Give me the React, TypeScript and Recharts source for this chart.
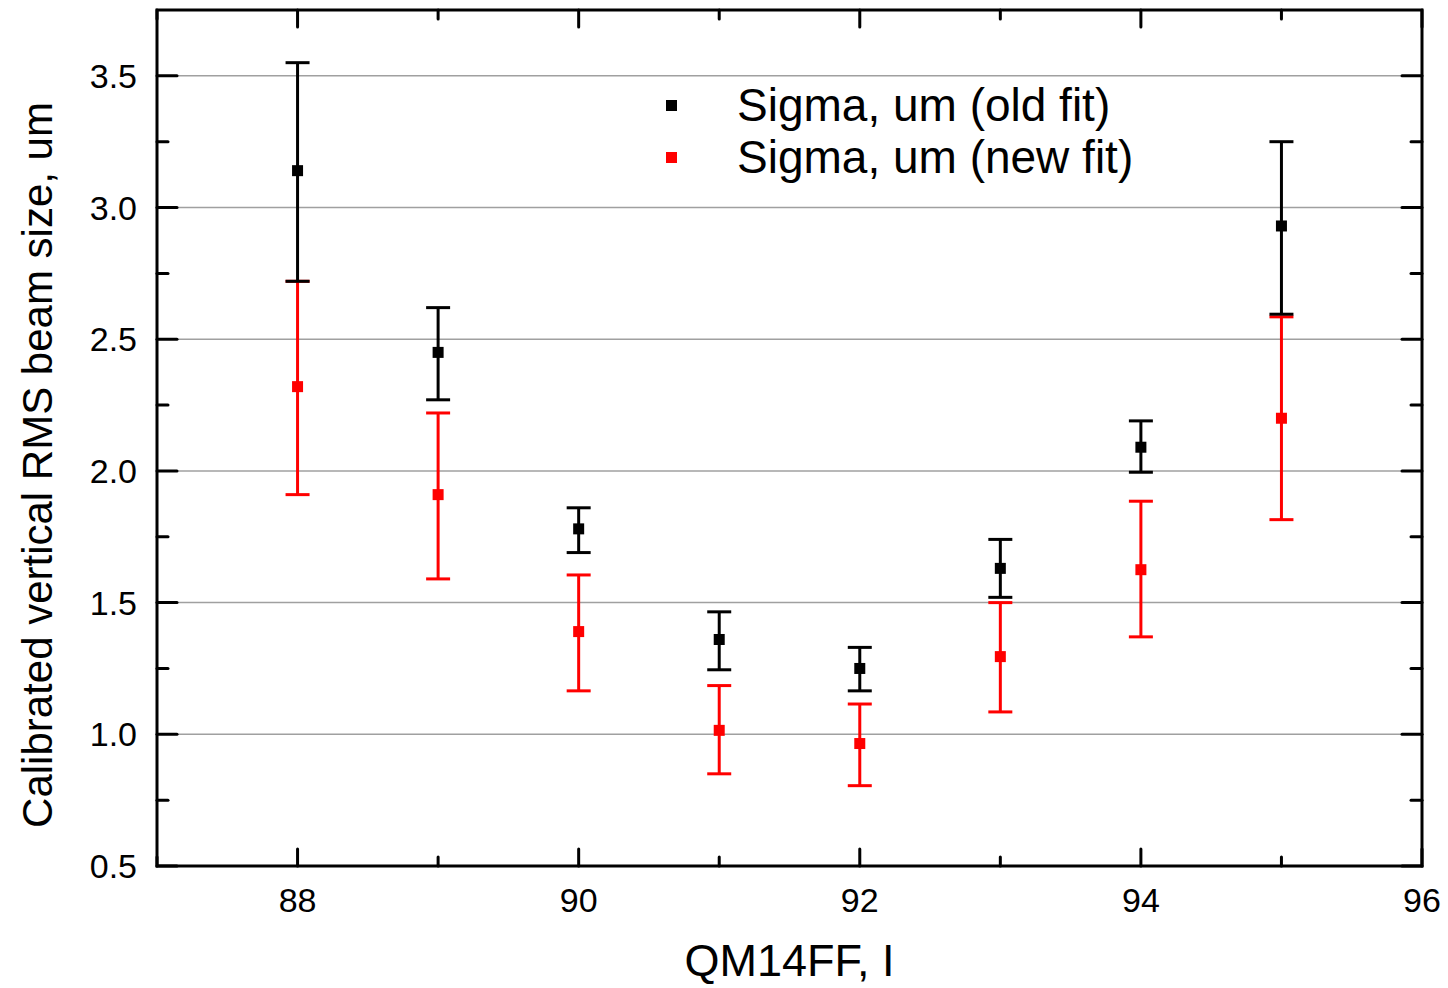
import {
    ScatterChart, Scatter, XAxis, YAxis, CartesianGrid, ErrorBar, ReferenceArea, Label
} from 'recharts'

// QM14FF current, one point per setting
const CURRENTS = [88, 89, 90, 91, 92, 93, 94, 95]

// old fit: value, upper and lower ends of the error bar
const OLD_VAL = [3.14, 2.45, 1.78, 1.36, 1.25, 1.63, 2.09, 2.93]
const OLD_HI = [3.55, 2.62, 1.86, 1.465, 1.33, 1.74, 2.19, 3.25]
const OLD_LO = [2.72, 2.27, 1.69, 1.245, 1.165, 1.52, 1.995, 2.595]

// new fit
const NEW_VAL = [2.32, 1.91, 1.39, 1.015, 0.965, 1.295, 1.625, 2.2]
const NEW_HI = [2.72, 2.22, 1.605, 1.185, 1.115, 1.5, 1.885, 2.585]
const NEW_LO = [1.91, 1.59, 1.165, 0.85, 0.805, 1.085, 1.37, 1.815]

const X_TICKS = [87, 88, 89, 90, 91, 92, 93, 94, 95, 96]
const Y_TICKS = [0.5, 0.75, 1, 1.25, 1.5, 1.75, 2, 2.25, 2.5, 2.75, 3, 3.25, 3.5]
const GRID_VALUES = [1, 1.5, 2, 2.5, 3, 3.5]

const W = 1448
const H = 988
const PL = 157
const PR = 1422
const PT = 10
const PB = 866
const FONT = '"Liberation Sans", Arial, sans-serif'

function buildSeries(vals: number[], hi: number[], lo: number[]) {
    return CURRENTS.map((x, i) => ({
        x,
        y: vals[i],
        err: [vals[i] - lo[i], hi[i] - vals[i]],
    }))
}

const oldData = buildSeries(OLD_VAL, OLD_HI, OLD_LO)
const newData = buildSeries(NEW_VAL, NEW_HI, NEW_LO)

function square(color: string) {
    return (props: any) => (
        <rect x={props.cx - 5.5} y={props.cy - 5.5} width={11} height={11} fill={color} />
    )
}

function XTick(props: any) {
    const { x, payload } = props
    const v = payload.value
    const major = v % 2 === 0
    const len = major ? 17 : 9
    return (
        <g>
            <line x1={x} x2={x} y1={PB} y2={PB - len} stroke='#000' strokeWidth={3} strokeLinecap='round' />
            <line x1={x} x2={x} y1={PT} y2={PT + len} stroke='#000' strokeWidth={3} strokeLinecap='round' />
            {major && (
                <text x={x} y={900} textAnchor='middle' dominantBaseline='central'
                    fontSize={34} fontFamily={FONT} fill='#000'>{v}</text>
            )}
        </g>
    )
}

function YTick(props: any) {
    const { y, payload } = props
    const v = payload.value
    const major = Math.abs(v * 2 - Math.round(v * 2)) < 1e-6
    const len = major ? 20 : 11
    return (
        <g>
            <line x1={PL} x2={PL + len} y1={y} y2={y} stroke='#000' strokeWidth={3} strokeLinecap='round' />
            <line x1={PR - len} x2={PR} y1={y} y2={y} stroke='#000' strokeWidth={3} strokeLinecap='round' />
            {major && (
                <text x={137} y={y} textAnchor='end' dominantBaseline='central'
                    fontSize={34} fontFamily={FONT} fill='#000'>{v.toFixed(1)}</text>
            )}
        </g>
    )
}

export default function App() {
    return (
        <div style={{ position: 'absolute', left: 0, top: 0, width: W, height: H, background: '#fff' }}>
            <ScatterChart width={W} height={H} margin={{ top: PT, right: W - PR, left: 0, bottom: 0 }}>
                <CartesianGrid vertical={false} horizontalValues={GRID_VALUES} stroke='#a0a0a0' strokeWidth={1.5} />
                <XAxis
                    type='number'
                    dataKey='x'
                    domain={[87, 96]}
                    ticks={X_TICKS}
                    interval={0}
                    height={H - PB}
                    axisLine={false}
                    tickLine={false}
                    tick={<XTick />}
                >
                    <Label content={() => (
                        <text x={(PL + PR) / 2} y={976} textAnchor='middle'
                            fontSize={45} fontFamily={FONT} fill='#000'>QM14FF, I</text>
                    )} />
                </XAxis>
                <YAxis
                    type='number'
                    dataKey='y'
                    domain={[0.5, 3.75]}
                    ticks={Y_TICKS}
                    interval={0}
                    width={PL}
                    axisLine={false}
                    tickLine={false}
                    tick={<YTick />}
                >
                    <Label content={() => (
                        <text x={37} y={465} transform='rotate(-90 37 465)' textAnchor='middle'
                            dominantBaseline='central' fontSize={42} fontFamily={FONT} fill='#000'>
                            Calibrated vertical RMS beam size, um
                        </text>
                    )} />
                </YAxis>
                <ReferenceArea x1={87} x2={96} y1={0.5} y2={3.75} fill='none' stroke='#000' strokeWidth={3} ifOverflow='visible' />
                <Scatter name='Sigma, um (new fit)' data={newData} fill='#ff0000' shape={square('#ff0000')} isAnimationActive={false}>
                    <ErrorBar dataKey='err' direction='y' width={12} stroke='#ff0000' strokeWidth={3} isAnimationActive={false} />
                </Scatter>
                <Scatter name='Sigma, um (old fit)' data={oldData} fill='#000' shape={square('#000')} isAnimationActive={false}>
                    <ErrorBar dataKey='err' direction='y' width={12} stroke='#000' strokeWidth={3} isAnimationActive={false} />
                </Scatter>
            </ScatterChart>
            <div style={{ position: 'absolute', left: 666, top: 79, fontFamily: FONT, fontSize: 46, lineHeight: '52px', color: '#000' }}>
                <div style={{ display: 'flex', alignItems: 'center' }}>
                    <span style={{ width: 11, height: 11, background: '#000', display: 'inline-block', marginRight: 60 }} />
                    <span>Sigma, um (old fit)</span>
                </div>
                <div style={{ display: 'flex', alignItems: 'center' }}>
                    <span style={{ width: 11, height: 11, background: '#ff0000', display: 'inline-block', marginRight: 60 }} />
                    <span>Sigma, um (new fit)</span>
                </div>
            </div>
        </div>
    )
}
